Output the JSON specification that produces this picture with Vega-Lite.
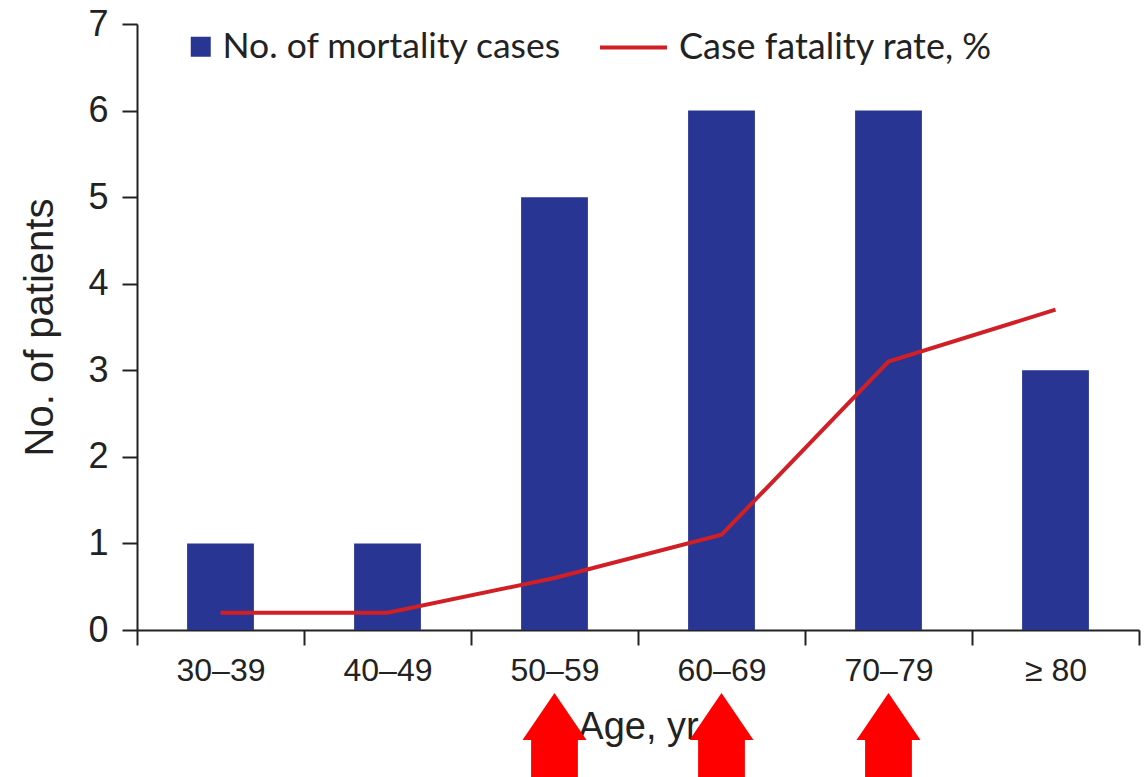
{
  "$schema": "https://vega.github.io/schema/vega-lite/v6.json",
  "width": 1002,
  "height": 606,
  "autosize": {"type": "none"},
  "padding": {"left": 137, "top": 24, "right": 9, "bottom": 147},
  "background": "white",
  "config": {
    "view": {"stroke": null},
    "font": "Liberation Sans",
    "axis": {
      "domainColor": "#222222",
      "domainWidth": 2,
      "tickColor": "#222222",
      "tickWidth": 2,
      "tickSize": 15,
      "labelColor": "#222222",
      "titleColor": "#222222",
      "labelFont": "Liberation Sans",
      "titleFont": "Liberation Sans",
      "titleFontWeight": "normal",
      "grid": false
    }
  },
  "data": {
    "values": [
      {"age": "30–39", "deaths": 1, "rate": 0.2, "arrow": false},
      {"age": "40–49", "deaths": 1, "rate": 0.2, "arrow": false},
      {"age": "50–59", "deaths": 5, "rate": 0.6, "arrow": true},
      {"age": "60–69", "deaths": 6, "rate": 1.1, "arrow": true},
      {"age": "70–79", "deaths": 6, "rate": 3.1, "arrow": true},
      {"age": "≥ 80", "deaths": 3, "rate": 3.7, "arrow": false}
    ]
  },
  "layer": [
    {
      "mark": {"type": "bar", "width": {"band": 0.4}},
      "encoding": {
        "x": {
          "field": "age", "type": "nominal", "sort": null,
          "scale": {"paddingInner": 0, "paddingOuter": 0},
          "axis": {
            "title": "Age, yr", "titleFontSize": 38, "titlePadding": 22,
            "labelFontSize": 32, "labelAngle": 0, "labelPadding": 10,
            "tickBand": "extent"
          }
        },
        "y": {
          "field": "deaths", "type": "quantitative",
          "scale": {"domain": [0, 7], "nice": false},
          "axis": {
            "title": "No. of patients", "titleFontSize": 40, "titlePadding": 27,
            "labelFontSize": 36, "labelPadding": 14, "format": "d",
            "values": [0, 1, 2, 3, 4, 5, 6, 7]
          }
        },
        "fill": {
          "datum": "No. of mortality cases", "type": "nominal",
          "scale": {"range": ["#283593"]},
          "legend": {
            "orient": "none", "legendX": 46, "legendY": 5, "title": null,
            "symbolType": "square", "symbolSize": 400, "padding": 0,
            "labelFont": "Lato", "labelFontSize": 35.5, "labelColor": "#222222",
            "labelOffset": 4, "labelLimit": 0
          }
        }
      }
    },
    {
      "mark": {"type": "line", "strokeWidth": 4},
      "encoding": {
        "x": {"field": "age", "type": "nominal", "sort": null},
        "y": {"field": "rate", "type": "quantitative"},
        "stroke": {
          "datum": "Case fatality rate, %", "type": "nominal",
          "scale": {"range": ["#d11f26"]},
          "legend": {
            "orient": "none", "legendX": 461, "legendY": -12, "title": null,
            "symbolType": "stroke", "symbolSize": 4489, "symbolStrokeWidth": 4,
            "padding": 0,
            "labelFont": "Lato", "labelFontSize": 36, "labelColor": "#222222",
            "labelOffset": 10, "labelLimit": 0
          }
        }
      }
    },
    {
      "transform": [{"filter": "datum.arrow"}],
      "mark": {
        "type": "point",
        "shape": "M0,-0.682 L0.533,0.1 L0.39,0.1 L0.39,1 L-0.39,1 L-0.39,0.1 L-0.533,0.1 Z",
        "size": 14400, "filled": true, "color": "#ff0000", "strokeWidth": 0, "opacity": 1
      },
      "encoding": {
        "x": {"field": "age", "type": "nominal", "sort": null},
        "y": {"datum": -1.2, "type": "quantitative"}
      }
    }
  ]
}
